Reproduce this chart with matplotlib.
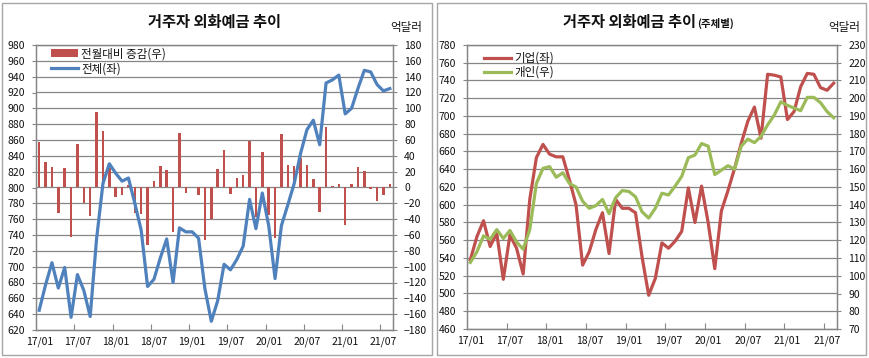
import numpy as np
import pandas as pd
import matplotlib
matplotlib.use('Agg')
import matplotlib.pyplot as plt
from matplotlib.patches import Rectangle

plt.rcParams['font.family'] = ['Noto Sans CJK KR', 'DejaVu Sans']

# monthly categories 17/01 .. 21/08
months = list(pd.date_range('2017-01-01', periods=56, freq='MS').strftime('%y/%m'))
tick_labels = ['17/01', '17/07', '18/01', '18/07', '19/01', '19/07',
               '20/01', '20/07', '21/01', '21/07']

# left chart: total (left axis), month-on-month change (right axis), 억달러
total = [645, 677, 705, 673, 699, 636, 690, 670, 637, 735,
         805, 830, 818, 808, 812, 780, 746, 675, 684, 711,
         735, 680, 749, 744, 744, 736, 672, 631, 657, 703,
         696, 709, 726, 785, 748, 793, 752, 685, 752, 778,
         805, 843, 873, 885, 854, 932, 936, 942, 893, 900,
         925, 948, 946, 930, 922, 925]
change = [57, 32, 26, -32, 25, -63, 55, -20, -36, 95,
          71, 24, -12, -10, 3, -32, -34, -72, 8, 27,
          22, -56, 69, -7, 1, -10, -66, -40, 23, 47,
          -8, 12, 16, 59, -37, 45, -35, -64, 67, 28,
          27, 37, 28, 11, -31, 77, 2, 5, -48, 5,
          26, 21, -2, -17, -10, 4]

# right chart: corporate (left axis), individual (right axis)
corp = [538, 564, 582, 553, 568, 516, 566, 551, 522, 606,
        653, 668, 657, 654, 654, 628, 600, 532, 547, 572,
        591, 545, 606, 596, 596, 591, 541, 498, 517, 557,
        551, 559, 570, 619, 580, 621, 580, 528, 593, 616,
        641, 669, 694, 710, 675, 747, 746, 744, 696, 705,
        733, 748, 747, 732, 729, 737]
indiv = [107.5, 113.5, 122.5, 120.5, 126, 121, 125.5, 119, 115, 126,
         152, 160.5, 161.5, 155.5, 158, 152, 150, 142, 138, 139.5,
         143, 135, 144, 148, 147.5, 144.5, 136, 132.5, 138, 146.5,
         145.5, 150.5, 156, 166.5, 168, 174.5, 173, 157, 159.5, 162,
         160, 173, 177, 175, 178.5, 185, 190.5, 198, 196, 194.5,
         193, 200.5, 200.5, 197.5, 192.5, 189]

RED = '#C0504D'
BLUE = '#4F81BD'
GREEN = '#9BBB59'
GRID = '#868686'
TXT = '#111111'

W, H = 869, 358
fig = plt.figure(figsize=(W / 100, H / 100), dpi=100)
fig.patch.set_facecolor('white')

def px_axes(x0, y0, x1, y1):
    return fig.add_axes([x0 / W, 1 - y1 / H, (x1 - x0) / W, (y1 - y0) / H])

# panel frames
for bx0, bx1 in [(2, 432), (437, 866)]:
    fig.patches.append(Rectangle((bx0 / W, 3 / H), (bx1 - bx0) / W, (H - 6) / H,
                                 transform=fig.transFigure, fill=False,
                                 edgecolor='#A6A6A6', linewidth=1.0))

x = np.arange(len(months))
major = [months.index(t) for t in tick_labels]
minor = [m - 0.5 for m in major[1:]]


def style_axes(a):
    for s in a.spines.values():
        s.set_color(GRID)
        s.set_linewidth(0.9)
    a.tick_params(axis='y', which='both', length=3, width=0.8, color=GRID,
                  labelsize=7.5, labelcolor=TXT, pad=5)
    a.set_xlim(-0.5, len(months) - 0.5)


def style_x(a):
    a.set_xticks(major)
    a.set_xticklabels(tick_labels)
    a.set_xticks(minor, minor=True)
    a.tick_params(axis='x', which='major', length=0, labelsize=7.5,
                  labelcolor=TXT, pad=5)
    a.tick_params(axis='x', which='minor', length=4, direction='in',
                  color=GRID, width=0.8)


# ---------- left chart ----------
axL = px_axes(36, 45, 393, 330)
axL2 = axL.twinx()
axL.set_zorder(2)
axL2.set_zorder(1)
axL.patch.set_visible(False)

bars = axL2.bar(x, change, width=0.4, color=RED, zorder=2)
axL2.set_ylim(-180, 180)
axL2.set_yticks(np.arange(-180, 181, 20))
axL2.grid(axis='y', color=GRID, linewidth=0.9)
axL2.set_axisbelow(True)

line_total, = axL.plot(x, total, color=BLUE, linewidth=2.3,
                       solid_joinstyle='round')
axL.set_ylim(620, 980)
axL.set_yticks(np.arange(620, 981, 20))

style_axes(axL)
style_axes(axL2)
style_x(axL)
axL2.tick_params(axis='x', which='both', length=0, labelbottom=False)

axL.legend([bars, line_total], ['전월대비 증감(우)', '전체(좌)'],
           loc='upper left', bbox_to_anchor=(0.02, 1.02), frameon=False,
           fontsize=8.3, handlelength=2.3, handletextpad=0.3,
           labelspacing=0.15, borderpad=0.2, labelcolor=TXT)

fig.text(215 / W, 1 - 27 / H, '거주자 외화예금 추이', ha='center', va='baseline',
         fontsize=11, fontweight='bold', color=TXT)
fig.text(406 / W, 1 - 27 / H, '억달러', ha='center', va='center',
         fontsize=8.3, color=TXT)

# ---------- right chart ----------
axR = px_axes(467, 45, 837, 329)
axR2 = axR.twinx()

line_corp, = axR.plot(x, corp, color=RED, linewidth=2.3,
                      solid_joinstyle='round')
axR.set_ylim(460, 780)
axR.set_yticks(np.arange(460, 781, 20))
axR.grid(axis='y', color=GRID, linewidth=0.9)
axR.set_axisbelow(True)

line_ind, = axR2.plot(x, indiv, color=GREEN, linewidth=2.3,
                      solid_joinstyle='round')
axR2.set_ylim(70, 230)
axR2.set_yticks(np.arange(70, 231, 10))

style_axes(axR)
style_axes(axR2)
style_x(axR)
axR2.tick_params(axis='x', which='both', length=0, labelbottom=False)

axR2.legend([line_corp, line_ind], ['기업(좌)', '개인(우)'],
            loc='upper left', bbox_to_anchor=(0.025, 1.005), frameon=False,
            fontsize=8.3, handlelength=2.3, handletextpad=0.3,
            labelspacing=0.1, borderpad=0.2, labelcolor=TXT)

t1 = fig.text(563 / W, 1 - 27 / H, '거주자 외화예금 추이', ha='left', va='baseline',
              fontsize=11, fontweight='bold', color=TXT)
fig.canvas.draw()
bb = t1.get_window_extent()
fig.text((bb.x1 + 1) / W, 1 - 27 / H, '(주체별)', ha='left', va='baseline',
         fontsize=7.5, fontweight='bold', color=TXT)
fig.text(844 / W, 1 - 27 / H, '억달러', ha='center', va='center',
         fontsize=8.3, color=TXT)

fig.savefig('out.png', dpi=100, facecolor='white')
